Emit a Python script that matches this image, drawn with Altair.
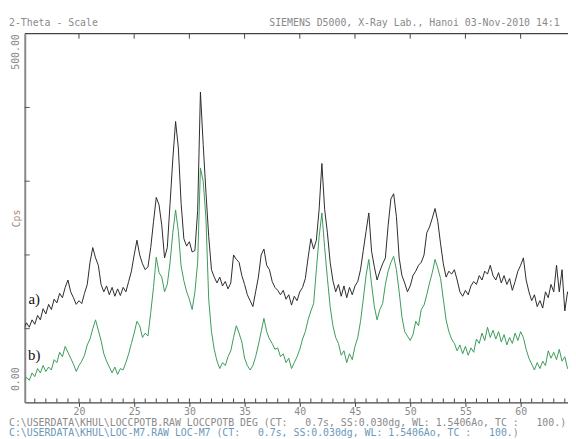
import altair as alt
import pandas as pd
import numpy as np

# 2-theta grid (degrees), instrument step 0.25 deg
theta_start = 15.0
theta_step = 0.25

trace_a = [100, 108, 102, 112, 106, 118, 112, 127, 120, 133,
           126, 140, 135, 148, 142, 156, 166, 150, 142, 133,
           138, 134, 148, 160, 190, 210, 196, 186, 160, 150,
           158, 146, 156, 144, 154, 145, 156, 150, 164, 178,
           200, 220, 200, 188, 180, 184, 210, 245, 278, 268,
           240, 196, 210, 270, 330, 381, 345, 270, 222, 212,
           218, 204, 206, 260, 421, 350, 285, 225, 180, 170,
           162, 170, 158, 164, 154, 162, 200, 194, 190, 172,
           160, 146, 138, 130, 150, 170, 200, 208, 186, 180,
           164, 156, 152, 146, 152, 140, 146, 132, 144, 138,
           150, 156, 168, 196, 222, 208, 220, 262, 324, 262,
           230, 190, 165, 150, 160, 144, 158, 142, 156, 146,
           158, 164, 180, 206, 232, 257, 205, 184, 166, 178,
           188, 196, 240, 276, 283, 252, 196, 172, 162, 150,
           158, 172, 178, 186, 190, 200, 230, 238, 250, 263,
           245, 215, 188, 170, 178, 174, 180, 166, 150, 144,
           152, 146, 158, 164, 160, 172, 166, 178, 174, 186,
           172, 166, 176, 162, 172, 160, 168, 152, 164, 178,
           186, 196, 166, 150, 138, 146, 130, 138, 128, 150,
           142, 160, 150, 186, 150, 180, 124, 150, 140]

trace_b = [28, 34, 30, 40, 35, 46, 40, 50, 42, 48,
           44, 58, 54, 68, 62, 76, 68, 60, 52, 42,
           50, 56, 64, 78, 86, 100, 112, 98, 84, 66,
           56, 48, 40, 48, 38, 46, 44, 54, 66, 80,
           94, 110, 104, 88, 94, 90, 122, 156, 197, 176,
           170, 150, 160, 190, 230, 261, 232, 185, 165, 150,
           140, 126, 150, 190, 318, 300, 250, 140, 96, 72,
           56, 46, 54, 50, 62, 70, 88, 104, 94, 82,
           60, 50, 44, 50, 62, 78, 96, 114, 96, 86,
           80, 72, 74, 62, 66, 54, 60, 46, 54, 62,
           72, 86, 96, 112, 124, 134, 180, 225, 257, 210,
           168, 130, 104, 88, 80, 64, 70, 54, 66, 58,
           76, 88, 110, 140, 172, 194, 160, 130, 112, 126,
           134, 160, 178, 190, 198, 180, 150, 116, 96, 90,
           84, 92, 110, 104, 126, 132, 146, 162, 176, 194,
           182, 168, 140, 112, 96, 86, 80, 70, 78, 66,
           76, 64, 74, 68, 86, 80, 94, 84, 102, 88,
           98, 86, 96, 82, 92, 78, 88, 80, 94, 84,
           96, 88, 72, 60, 52, 44, 54, 46, 56, 50,
           70, 60, 68, 58, 72, 56, 62, 46, 50]

x_major_ticks = [20, 25, 30, 35, 40, 45, 50, 55, 60]
x_minor_ticks = list(range(16, 65))
y_ticks = [100, 200, 300, 400]
y_labels = [0, 500]

labels_text = ["a)", "b)"]
labels_x = [15.95, 15.95]
labels_y = [140, 64]

NB = "\u00a0"
header_left_text = "2-Theta - Scale"
header_right_text = "SIEMENS D5000, X-Ray Lab., Hanoi 03-Nov-2010 14:1"
footer_1_text = ("C:\\USERDATA\\KHUL\\LOCCPOTB.RAW LOCCPOTB DEG (CT:" + NB * 3 + "0.7s, SS:0.030dg, WL: 1.5406Ao, TC :"
                 + NB * 3 + "100.)")
footer_2_text = ("C:\\USERDATA\\KHUL\\LOC-M7.RAW LOC-M7 (CT:" + NB * 3 + "0.7s, SS:0.030dg, WL: 1.5406Ao, TC :"
                 + NB * 3 + "100.)")

W, H = 551, 374
X_DOMAIN = [15.09, 64.29]
Y_DOMAIN = [0, 500]
MONO = "DejaVu Sans Mono"

theta = [round(theta_start + theta_step * i, 2) for i in range(len(trace_a))]
df = pd.DataFrame({
    "theta": theta * 2,
    "cps": trace_a + trace_b,
    "series": ["a"] * len(trace_a) + ["b"] * len(trace_b),
})

xs = alt.Scale(domain=X_DOMAIN, nice=False, zero=False)
ys = alt.Scale(domain=Y_DOMAIN, nice=False)

base_x = alt.X("theta:Q", scale=xs, axis=alt.Axis(
    values=x_major_ticks, grid=False, tickSize=4, tickColor="#444",
    domainColor="#444", domainWidth=1.2, labelFont=MONO, labelFontSize=10,
    labelColor="#8a8a8a", labelPadding=0, title=None, format="d"))
base_y = alt.Y("cps:Q", scale=ys, axis=alt.Axis(
    values=y_labels, grid=False, ticks=False, domainColor="#888", domainWidth=2,
    labelFont=MONO, labelFontSize=10, labelColor="#8a8a8a", labelAngle=270,
    labelAlign=alt.condition("datum.value <= 0", alt.value("left"), alt.value("right")),
    labelOffset=alt.condition("datum.value <= 0", alt.value(-12), alt.value(0)),
    labelBaseline="middle", labelPadding=9, format=".2f",
    title="Cps", titleFont=MONO, titleFontSize=10, titleColor="#a88c78",
    titleFontWeight="normal", titleAngle=270, titleX=-8, titleY=187,
    titleAlign="center", titleBaseline="middle"))

lines = alt.Chart(df).mark_line(strokeWidth=1, clip=True, interpolate="linear").encode(
    x=base_x, y=base_y,
    color=alt.Color("series:N", scale=alt.Scale(domain=["a", "b"], range=["#2b2b2b", "#3b9a58"]), legend=None),
)

minor = alt.Chart(pd.DataFrame({"t": x_minor_ticks})).mark_rule(color="#444", strokeWidth=1).encode(
    x=alt.X("t:Q", scale=xs), y=alt.value(H - 4), y2=alt.value(H))
top_ticks = alt.Chart(pd.DataFrame({"t": x_major_ticks})).mark_rule(color="#444", strokeWidth=1).encode(
    x=alt.X("t:Q", scale=xs), y=alt.value(0), y2=alt.value(5))
top_line = alt.Chart(pd.DataFrame({"t": [0]})).mark_rule(color="#444", strokeWidth=1.2).encode(
    x=alt.value(0), x2=alt.value(W), y=alt.value(0))
left_ticks = alt.Chart(pd.DataFrame({"v": y_ticks})).mark_rule(color="#555", strokeWidth=1).encode(
    y=alt.Y("v:Q", scale=ys), x=alt.value(0), x2=alt.value(5))

ann = alt.Chart(pd.DataFrame({"t": labels_text, "x": labels_x, "y": labels_y})).mark_text(
    font="Liberation Serif", fontSize=15, color="#111", align="center", baseline="middle").encode(
    x=alt.X("x:Q", scale=xs), y=alt.Y("y:Q", scale=ys), text="t:N")


def text_layer(txt, x, y, color="#8a8a8a", baseline="middle"):
    return alt.Chart(pd.DataFrame({"t": [txt]})).mark_text(
        font=MONO, fontSize=10, color=color, align="left", baseline=baseline).encode(
        x=alt.value(x), y=alt.value(y), text="t:N")


header_left = text_layer(header_left_text, -16, -11)
header_right = text_layer(header_right_text, 248, -11)
foot1 = text_layer(footer_1_text, -16, 395)
foot2 = text_layer(footer_2_text, -16, 405, color="#6a98b8")

chart = alt.layer(lines, minor, top_ticks, top_line, left_ticks, ann,
                  header_left, header_right, foot1, foot2).properties(
    width=W, height=H,
    autosize=alt.AutoSizeParams(type="none"),
    padding={"left": 17, "top": 23, "right": 0, "bottom": 34},
    background="white",
).configure_view(stroke=None)

chart.save("out.html", embed_options={"renderer": "svg", "actions": False})
